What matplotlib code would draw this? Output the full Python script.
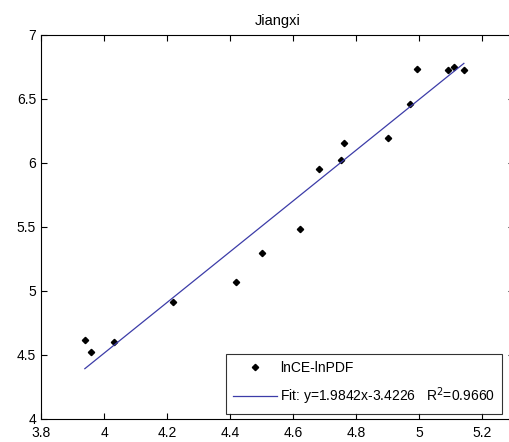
import numpy as np
import matplotlib
matplotlib.use('Agg')
import matplotlib.pyplot as plt

plt.rcParams['font.family'] = ['Liberation Sans', 'DejaVu Sans']

# lnCE vs lnPDF, Jiangxi
ln_pdf = [3.939, 3.960, 4.031, 4.220, 4.418, 4.502, 4.620, 4.683,
          4.751, 4.762, 4.899, 4.971, 4.991, 5.091, 5.109, 5.141]
ln_ce = [4.615, 4.526, 4.604, 4.912, 5.068, 5.294, 5.487, 5.950,
         6.020, 6.160, 6.195, 6.459, 6.734, 6.727, 6.748, 6.724]

slope = 1.9842
intercept = -3.4226
r2 = 0.9660

x_ticks = [3.8, 4.0, 4.2, 4.4, 4.6, 4.8, 5.0, 5.2]
x_tick_labels = ['3.8', '4', '4.2', '4.4', '4.6', '4.8', '5', '5.2']
y_ticks = [4, 4.5, 5, 5.5, 6, 6.5, 7]
y_tick_labels = ['4', '4.5', '5', '5.5', '6', '6.5', '7']

fig = plt.figure(figsize=(5.09, 4.42), dpi=100)
ax = fig.add_axes([41 / 509, 23 / 442, 473 / 509, 384 / 442])

ax.plot(ln_pdf, ln_ce, linestyle='none', marker='D', markersize=3.2,
        color='black', label='lnCE-lnPDF')

xs = np.array([min(ln_pdf), max(ln_pdf)])
ax.plot(xs, slope * xs + intercept, color='#3c3ca8', linewidth=0.9,
        label='Fit: y=%.4fx%.4f   R$^2$=%.4f' % (slope, intercept, r2))

ax.set_xlim(3.8, 5.3)
ax.set_ylim(4, 7)
ax.set_xticks(x_ticks)
ax.set_xticklabels(x_tick_labels)
ax.set_yticks(y_ticks)
ax.set_yticklabels(y_tick_labels)
ax.tick_params(direction='in', top=True, right=True, length=4,
               labelsize=10, width=0.8)
ax.tick_params(axis='x', pad=5)
for s in ax.spines.values():
    s.set_linewidth(0.8)

ax.set_title('Jiangxi', fontsize=10.5, pad=7)

leg = ax.legend(loc='lower right', bbox_to_anchor=(461 / 473, 5 / 384),
                fontsize=10, frameon=True, fancybox=False, edgecolor='black',
                borderpad=0.5, labelspacing=0.75, handlelength=3.2,
                handletextpad=0.2, borderaxespad=0)
leg.get_frame().set_linewidth(0.8)

fig.savefig('out.png', dpi=100)
